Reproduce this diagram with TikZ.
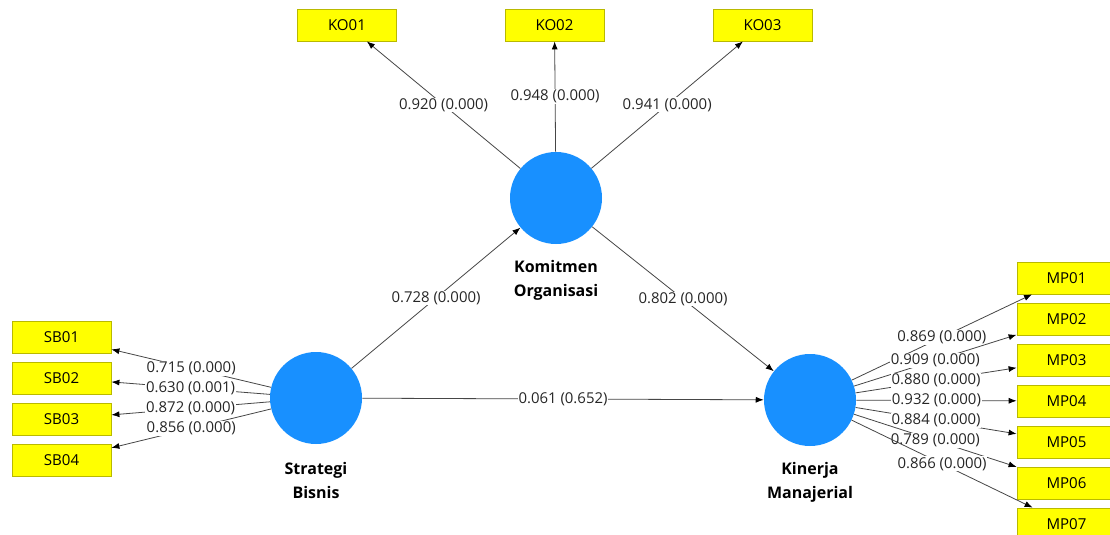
\documentclass[tikz,border=0pt]{standalone}
\usepackage{fontspec}
\setmainfont{Open Sans}
\usetikzlibrary{arrows.meta}
\definecolor{circblue}{RGB}{24,144,255}
\definecolor{boxyellow}{RGB}{255,255,0}
\definecolor{boxedge}{RGB}{185,185,0}
\definecolor{linegray}{RGB}{70,70,70}
\tikzset{
  lv/.style={circle, fill=circblue, minimum size=69pt, inner sep=0pt},
  ind/.style={rectangle, fill=boxyellow, draw=boxedge, line width=0.6pt, minimum width=74.25pt, minimum height=24pt, inner sep=0pt, font=\fontsize{11.3}{13}\selectfont},
  lvname/.style={align=center, font=\fontsize{12}{18}\selectfont\bfseries},
  conn/.style={draw=linegray, line width=0.6pt, -{Latex[length=6pt,width=4.5pt,color=black]}},
  lbl/.style={fill=white, inner sep=0.6pt, font=\fontsize{11.2}{13}\selectfont, text=black!85}
}
\begin{document}
\begin{tikzpicture}[x=0.75pt,y=-0.75pt]
\useasboundingbox (0,0) rectangle (1110,535);
\clip (0,0) rectangle (1110,535);
\fill[white] (0,0) rectangle (1110,535);
% latent variables
\node[lv] (ko) at (556,198) {};
\node[lv] (sb) at (316,398) {};
\node[lv] (km) at (810,400) {};
\node[lvname] (kolab) at (556,280.5) {Komitmen\\Organisasi};
\node[lvname] (sblab) at (316,480) {Strategi\\Bisnis};
\node[lvname] (kmlab) at (810,482) {Kinerja\\Manajerial};
% indicators
\node[ind] (ko1) at (347,25) {KO01};
\node[ind] (ko2) at (554.5,25) {KO02};
\node[ind] (ko3) at (762.5,25) {KO03};
\node[ind] (sb1) at (61.5,337.5) {SB01};
\node[ind] (sb2) at (61.5,378) {SB02};
\node[ind] (sb3) at (61.5,419) {SB03};
\node[ind] (sb4) at (61.5,460) {SB04};
\node[ind] (mp1) at (1066.5,278) {MP01};
\node[ind] (mp2) at (1066.5,319) {MP02};
\node[ind] (mp3) at (1066.5,360) {MP03};
\node[ind] (mp4) at (1066.5,401) {MP04};
\node[ind] (mp5) at (1066.5,442) {MP05};
\node[ind] (mp6) at (1066.5,483) {MP06};
\node[ind] (mp7) at (1066.5,524) {MP07};
% structural paths
\draw[conn] (sb) -- node[lbl]{0.728 (0.000)} (ko);
\draw[conn] (ko) -- node[lbl]{0.802 (0.000)} (km);
\draw[conn] (sb) -- node[lbl]{0.061 (0.652)} (km);
% outer loadings
\draw[conn] (ko) -- node[lbl]{0.920 (0.000)} (ko1);
\draw[conn] (ko) -- node[lbl]{0.948 (0.000)} (ko2);
\draw[conn] (ko) -- node[lbl]{0.941 (0.000)} (ko3);
\draw[conn] (sb) -- node[lbl]{0.715 (0.000)} (sb1);
\draw[conn] (sb) -- node[lbl]{0.630 (0.001)} (sb2);
\draw[conn] (sb) -- node[lbl]{0.872 (0.000)} (sb3);
\draw[conn] (sb) -- node[lbl]{0.856 (0.000)} (sb4);
\draw[conn] (km) -- node[lbl]{0.869 (0.000)} (mp1);
\draw[conn] (km) -- node[lbl]{0.909 (0.000)} (mp2);
\draw[conn] (km) -- node[lbl]{0.880 (0.000)} (mp3);
\draw[conn] (km) -- node[lbl]{0.932 (0.000)} (mp4);
\draw[conn] (km) -- node[lbl]{0.884 (0.000)} (mp5);
\draw[conn] (km) -- node[lbl]{0.789 (0.000)} (mp6);
\draw[conn] (km) -- node[lbl]{0.866 (0.000)} (mp7);
\end{tikzpicture}
\end{document}
